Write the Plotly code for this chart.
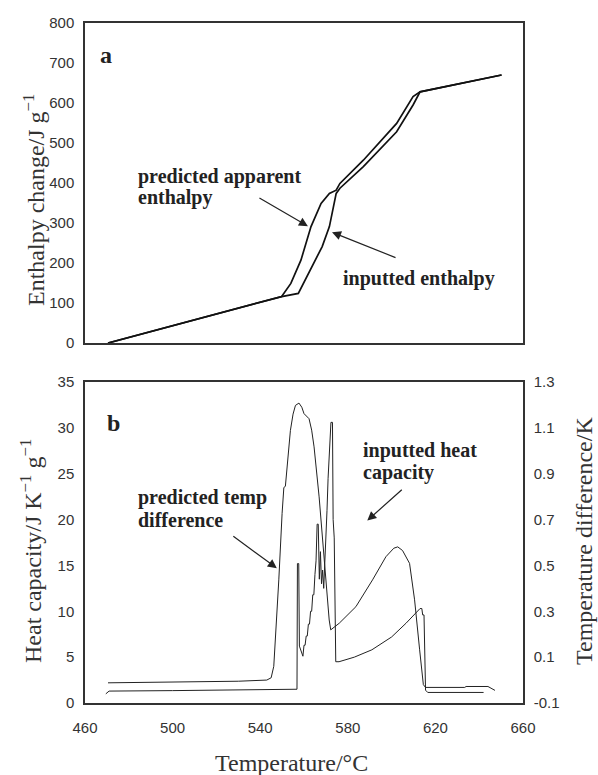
import plotly.graph_objects as go

# ---------- Panel a data: enthalpy change (J/g) vs temperature (°C)
pred_enth_T = [470.5, 500, 530, 549.8, 554, 558.6, 563.2, 567.8, 571.6, 574.7,
               576.4, 587.1, 602.3, 609.8, 613, 630, 650.2]
pred_enth_H = [0, 43, 87, 116, 149, 207, 291, 349, 374, 382,
               399, 457, 549, 616, 628, 648, 670]
inp_enth_T = [470.5, 500, 530, 549.8, 557.4, 559.7, 562.6, 568.3, 571.6, 573.6, 574.7,
              576.4, 587.1, 602.3, 609.8, 613, 630, 650.2]
inp_enth_H = [0, 43, 87, 116, 124, 149, 182, 241, 291, 349, 374,
              387, 441, 528, 595, 628, 648, 670]

# ---------- Panel b data
# inputted heat capacity (J K^-1 g^-1), left axis
cp_T = [469.5, 471, 500, 530, 556.8, 557.0, 557.6, 557.9, 559.2, 559.5, 560.0, 560.5,
        561.0, 561.5, 562.0, 562.5, 563.0, 563.5, 564.0, 564.5, 565.0, 565.5, 566.0,
        566.5, 567.0, 567.5, 568.0, 568.5, 569.0, 569.5, 570.0, 570.5, 571.0, 571.5,
        572.0, 572.3, 573.0, 573.3, 573.8, 574.5, 576, 583, 591, 600, 606.6, 611.2,
        613, 613.8, 614.2, 614.8, 615.5, 616.5, 642]
cp_V = [1.0, 1.3, 1.35, 1.4, 1.5, 15.2, 15.2, 6.2, 5.1, 5.1, 6.3, 6.3,
        7.3, 7.3, 8.6, 8.6, 10.0, 10.0, 11.8, 11.8, 14.0, 15.5, 19.5,
        19.5, 13.5, 16.5, 13.0, 14.5, 12.5, 15.0, 18.0, 21.0, 24.5, 26.5,
        28.5, 30.6, 30.6, 20.0, 18.0, 4.5, 4.5, 5.0, 5.8, 7.2, 8.7, 9.8,
        10.3, 10.3, 9.6, 9.6, 1.4, 1.15, 1.15]

# predicted temperature difference (K), right axis
dt_T = [470.5, 500, 530, 543, 545, 546.2, 547.5, 548.5, 550, 550.8, 551.5, 552.5,
        553.8, 555, 556.1, 557.7, 559, 560, 562.3, 563.5, 564.6, 566.9, 569.2, 571.5,
        572.2, 576.1, 583.7, 591.3, 597.4, 601, 602.8, 605, 608.2, 610.5, 612.8,
        614.5, 615.5, 633.4, 634, 644, 647.2]
dt_V = [-0.012, -0.010, -0.005, 0.0, 0.01, 0.06, 0.25, 0.437, 0.727, 0.84, 0.845, 0.95,
        1.089, 1.16, 1.198, 1.208, 1.19, 1.162, 1.14, 1.09, 1.017, 0.799, 0.509, 0.262,
        0.219, 0.248, 0.32, 0.437, 0.538, 0.575, 0.581, 0.565, 0.509, 0.35, 0.132,
        -0.02, -0.032, -0.032, -0.028, -0.028, -0.045]

x_ticks = [460, 500, 540, 580, 620, 660]
ya_ticks = [0, 100, 200, 300, 400, 500, 600, 700, 800]
yb_ticks = [0, 5, 10, 15, 20, 25, 30, 35]
yc_ticks = [-0.1, 0.1, 0.3, 0.5, 0.7, 0.9, 1.1, 1.3]
yc_text = ["-0.1", "0.1", "0.3", "0.5", "0.7", "0.9", "1.1", "1.3"]

W, H = 598, 775
L, R, T, B = 85, 75, 23, 72
PW, PH = W - L - R, H - T - B


def px(x):
    return (x - L) / PW


def py(y):
    return (H - B - y) / PH


fig = go.Figure()
fig.add_trace(go.Scatter(x=pred_enth_T, y=pred_enth_H, mode="lines",
                         line=dict(color="#111", width=1.7), xaxis="x", yaxis="y"))
fig.add_trace(go.Scatter(x=inp_enth_T, y=inp_enth_H, mode="lines",
                         line=dict(color="#111", width=1.7), xaxis="x", yaxis="y"))
fig.add_trace(go.Scatter(x=cp_T, y=cp_V, mode="lines",
                         line=dict(color="#222", width=1), xaxis="x2", yaxis="y2"))
fig.add_trace(go.Scatter(x=dt_T, y=dt_V, mode="lines",
                         line=dict(color="#222", width=1), xaxis="x2", yaxis="y3"))

tickfont = dict(family="Liberation Sans, Arial, sans-serif", size=15, color="#333")
axline = dict(showline=True, linecolor="#333", linewidth=1.5, showgrid=False,
              zeroline=False, ticks="", tickfont=tickfont)

dom_a = [py(343), 1]
dom_b = [0, py(382)]

fig.update_layout(
    width=W, height=H, margin=dict(l=L, r=R, t=T, b=B),
    plot_bgcolor="white", paper_bgcolor="white", showlegend=False,
    xaxis=dict(domain=[0, 1], range=[460, 660], anchor="y", showticklabels=False,
               mirror=True, **axline),
    yaxis=dict(domain=dom_a, range=[0, 800], tickvals=ya_ticks, anchor="x",
               mirror=True, ticklabelstandoff=6, **axline),
    xaxis2=dict(domain=[0, 1], range=[460, 660], anchor="y2", tickvals=x_ticks,
                mirror=True, ticklabelstandoff=10, **axline),
    yaxis2=dict(domain=dom_b, range=[0, 35], tickvals=yb_ticks, anchor="x2",
                mirror=True, ticklabelstandoff=6, **axline),
    yaxis3=dict(range=[-0.1, 1.3], tickvals=yc_ticks, ticktext=yc_text,
                overlaying="y2", side="right", anchor="x2",
                ticklabelstandoff=6, **axline),
)

serif = "Liberation Serif, Times New Roman, serif"
bold = dict(family=serif, size=20, color="#222")
title_font = dict(family=serif, size=24, color="#333")

ann = []


def text(s, x, y, font, xanchor="center", **kw):
    ann.append(dict(text=s, x=px(x), y=py(y), xref="paper", yref="paper",
                    xanchor=xanchor, yanchor="middle",
                    showarrow=False, font=font, **kw))


# panel letters
text("<b>a</b>", 106, 55, dict(family=serif, size=24, color="#222"))
text("<b>b</b>", 113, 423, dict(family=serif, size=24, color="#222"))

# annotation texts
text("<b>predicted apparent</b>", 136, 177, bold, xanchor="left")
text("<b>enthalpy</b>", 136, 198, bold, xanchor="left")
text("<b>inputted enthalpy</b>", 341, 278, bold, xanchor="left")
text("<b>predicted temp</b>", 136, 497, bold, xanchor="left")
text("<b>difference</b>", 136, 520, bold, xanchor="left")
text("<b>inputted heat</b>", 361, 450, bold, xanchor="left")
text("<b>capacity</b>", 361, 472, bold, xanchor="left")

# arrows (head in data coordinates, tail offset in pixels)
arrow = dict(showarrow=True, arrowhead=2, arrowsize=1.5, arrowwidth=1.2,
             arrowcolor="#222", text="")
ann.append(dict(x=561.8, y=292, xref="x", yref="y", ax=-50, ay=-29, **arrow))
ann.append(dict(x=572.8, y=277, xref="x", yref="y", ax=65, ay=26, **arrow))
ann.append(dict(x=547.6, y=14.7, xref="x2", yref="y2", ax=-45, ay=-33, **arrow))
ann.append(dict(x=588.9, y=19.9, xref="x2", yref="y2", ax=36, ay=-32, **arrow))

# axis titles
text("Enthalpy change/J g<sup>−1</sup>", 34, 200, title_font, textangle=-90)
text("Heat capacity/J K<sup>−1</sup> g<sup>−1</sup>", 31, 551, title_font, textangle=-90)
text("Temperature difference/K", 584, 541, title_font, textangle=-90)
text("Temperature/°C", 291, 763, title_font)

fig.update_layout(annotations=ann)
fig.write_html("out.html", config={"displayModeBar": False},
               post_script="document.body.style.margin='0';")
